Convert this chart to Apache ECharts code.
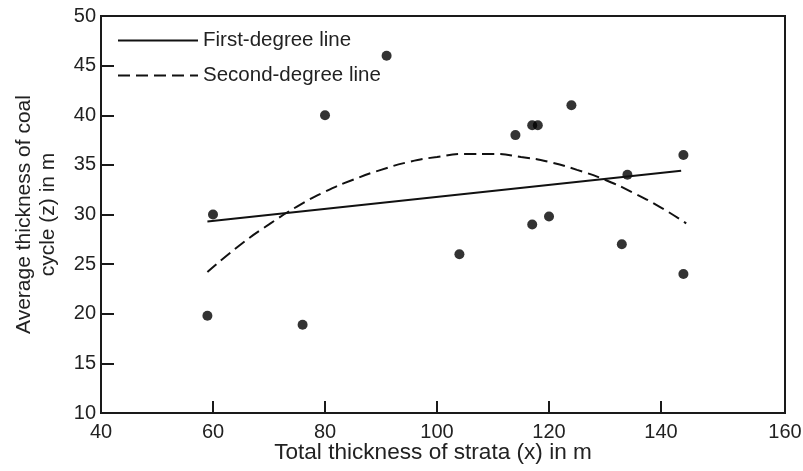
<!DOCTYPE html>
<html>
<head>
<meta charset="utf-8">
<script src="https://cdn.jsdelivr.net/npm/echarts@6/dist/echarts.min.js"></script>
<style>
html,body{margin:0;padding:0;background:#fff;}
#chart{width:803px;height:471px;}
</style>
</head>
<body>
<div id="chart"></div>
<script>
// Observed data points (x = total thickness of strata, z = average thickness of coal cycle)
var pointX = [60, 80, 91, 59, 76, 114, 117, 118, 124, 144, 134, 117, 120, 104, 133, 144];
var pointZ = [30, 40, 46, 19.8, 18.9, 38, 39, 39, 41, 36, 34, 29, 29.8, 26, 27, 24];

// First-degree line (read endpoints)
var line1X = [59, 143.6];
var line1Z = [29.3, 34.4];

// Second-degree line
var line2X = [59, 65, 70, 75, 80, 85, 90, 95, 100, 105, 110, 115, 120, 125, 130, 135, 140, 144.5];
var line2Z = [24.2, 27.0, 29.0, 30.8, 32.3, 33.5, 34.5, 35.3, 35.8, 36.1, 36.1, 35.8, 35.3, 34.5, 33.5, 32.2, 30.7, 29.1];

// Axis tick labels
var xTickLabels = [40, 60, 80, 100, 120, 140];
var xInnerTicks = [60, 80, 100, 120, 140];
var xEndLabel = [160];
var xFrameMax = 162.14; // drawn frame of the original extends slightly past 160
var yTicks = [10, 15, 20, 25, 30, 35, 40, 45, 50];

var seriesNames = ['First-degree line', 'Second-degree line'];

function zip(a, b) { return a.map(function (v, i) { return [v, b[i]]; }); }

var FONT = 'Liberation Sans, Arial, sans-serif';
var INK = '#1a1a1a';
var chart = echarts.init(document.getElementById('chart'), null, {renderer: 'canvas'});
chart.setOption({
  animation: false,
  backgroundColor: '#fff',
  textStyle: {fontFamily: FONT},
  grid: {left: 101, right: 18, top: 16, bottom: 58, containLabel: false, outerBoundsMode: 'none',
         show: true, borderColor: INK, borderWidth: 2, backgroundColor: 'transparent'},
  legend: {
    data: seriesNames,
    orient: 'vertical',
    left: 112, top: 25,
    itemWidth: 80, itemHeight: 14, itemGap: 14,
    itemStyle: {opacity: 0},
    textStyle: {fontFamily: FONT, fontSize: 20.5, color: '#222'},
    selectedMode: false
  },
  xAxis: [{
    type: 'value', min: xTickLabels[0], max: xFrameMax,
    name: 'Total thickness of strata (x) in m', nameLocation: 'middle', nameGap: 28, nameMoveOverlap: false,
    nameTextStyle: {fontFamily: FONT, fontSize: 22.6, color: '#222', padding: [0, 20, 0, 0]},
    axisLine: {show: true, lineStyle: {color: INK, width: 2}},
    axisTick: {show: true, inside: true, length: 12, customValues: xInnerTicks, lineStyle: {color: INK, width: 2}},
    axisLabel: {fontFamily: FONT, fontSize: 20, color: '#222', margin: 9, customValues: xTickLabels},
    splitLine: {show: false}
  }, {
    type: 'value', min: xTickLabels[0], max: xEndLabel[0], position: 'bottom',
    axisLine: {show: false}, axisTick: {show: false}, splitLine: {show: false},
    axisLabel: {fontFamily: FONT, fontSize: 20, color: '#222', margin: 9, customValues: xEndLabel}
  }],
  yAxis: {
    type: 'value', min: yTicks[0], max: yTicks[yTicks.length - 1], interval: 5,
    name: 'Average thickness of coal\ncycle (z) in m', nameLocation: 'middle', nameGap: 41, nameRotate: 90, nameMoveOverlap: false,
    nameTextStyle: {fontFamily: FONT, fontSize: 21, color: '#222', lineHeight: 24},
    axisLine: {show: true, lineStyle: {color: INK, width: 2}},
    axisTick: {show: true, inside: true, length: 13, lineStyle: {color: INK, width: 2}},
    axisLabel: {fontFamily: FONT, fontSize: 20, color: '#222', margin: 5},
    splitLine: {show: false}
  },
  series: [
    {
      name: seriesNames[0], type: 'line', data: zip(line1X, line1Z), xAxisIndex: 0,
      symbol: 'none', lineStyle: {color: '#111', width: 2, type: 'solid'}, itemStyle: {color: '#111'}
    },
    {
      name: seriesNames[1], type: 'line', data: zip(line2X, line2Z), smooth: true, xAxisIndex: 0,
      symbol: 'none', lineStyle: {color: '#111', width: 2, type: [12, 6]}, itemStyle: {color: '#111'}
    },
    {
      name: 'Observed', type: 'scatter', data: zip(pointX, pointZ), xAxisIndex: 0,
      symbol: 'circle', symbolSize: 10, itemStyle: {color: '#000'}
    }
  ]
});
</script>
</body>
</html>
